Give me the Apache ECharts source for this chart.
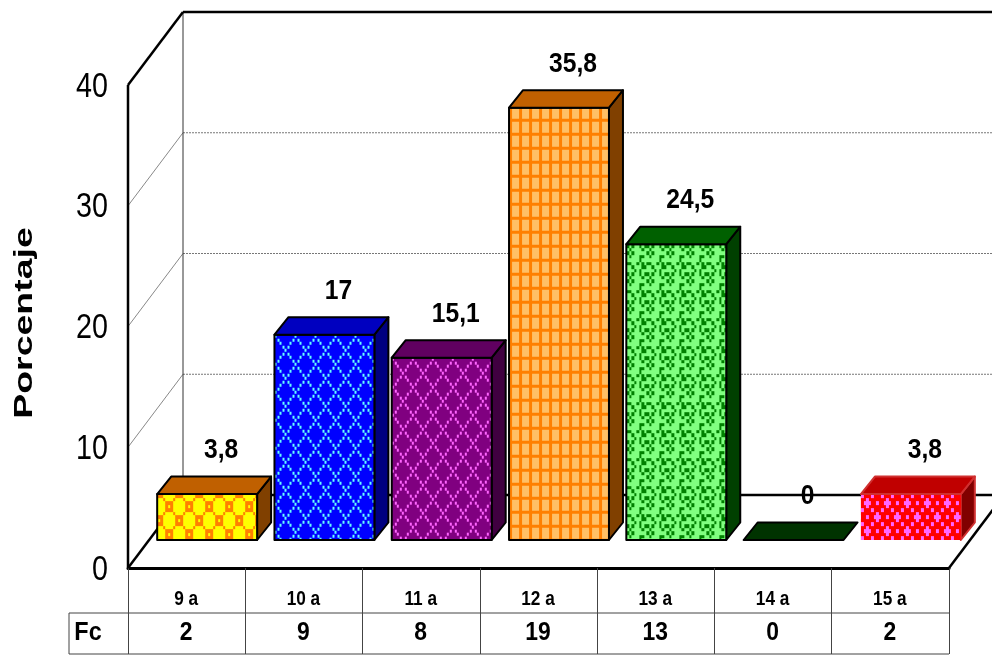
<!DOCTYPE html>
<html>
<head>
<meta charset="utf-8">
<style>html,body{margin:0;padding:0;background:#fff}#chart{width:992px;height:656px}</style>
<script src="https://cdn.jsdelivr.net/npm/echarts@6/dist/echarts.min.js"></script>
</head>
<body>
<div id="chart"></div>
<script>
// Age groups, percentages and frequencies
const ages = ['9 a', '10 a', '11 a', '12 a', '13 a', '14 a', '15 a'];
const percentages = [3.8, 17, 15.1, 35.8, 24.5, 0, 3.8];
const frequencies = ['2', '9', '8', '19', '13', '0', '2'];
const valueTicks = { min: 0, max: 40, interval: 10 };

const SANS = '"Liberation Sans", Arial, sans-serif';

// 3D projection of the box: wall offset, and the bars' position inside it
const WALL = { dx: 55, dy: -73 };
const BAR = { shiftX: 20.5, shiftY: -28, depthX: 14, depthY: -17.5, widthRatio: 0.852 };

// 8x8 hatch bitmaps scaled to a 20x28 tile
const HATCH = {
  rings: ['###.....', '#.#.....', '###.....', '...#...#', '....###.', '....#.#.', '....###.', '...#...#'],
  trellis: ['#.......', '.#.....#', '..#...#.', '...#.#..', '....#...', '...#.#..', '..#...#.', '.#.....#'],
  grid: ['#...#...', '#...#...', '#...#...', '########', '#...#...', '#...#...', '#...#...', '########'],
  confetti: ['#.#..#.#', '.#....#.', '#.#.....', '.#...##.', '.....#..', '##..#.#.', '..#...##', '...#.#..'],
  flower: ['#...#...', '..#.....', '.###..#.', '..#.....', '#...#...', '......#.', '..#..###', '......#.']
};
const XS = [0, 3, 5, 8, 10, 13, 15, 18, 20];
const YS = [0, 4, 7, 11, 14, 18, 21, 25, 28];

function hatchTile(rows, fg, bg, thin) {
  const c = document.createElement('canvas');
  c.width = 20; c.height = 28;
  const g = c.getContext('2d');
  g.fillStyle = bg; g.fillRect(0, 0, 20, 28);
  g.fillStyle = fg;
  rows.forEach((row, r) => {
    for (let k = 0; k < 8; k++) {
      if (row[k] !== '#') continue;
      const w = thin ? 2 : XS[k + 1] - XS[k];
      const h = thin ? 3 : YS[r + 1] - YS[r];
      g.fillRect(XS[k], YS[r], w, h);
    }
  });
  return c;
}

// One look per bar: hatch of the front face, shaded top and side, outlines
const looks = [
  { tile: hatchTile(HATCH.rings, '#FF8000', '#FFFF00'), top: '#C06000', side: '#804000', edge: '#000', front: '#000', ox: -2, oy: -7 },
  { tile: hatchTile(HATCH.trellis, '#66FFFF', '#0000FF', true), top: '#0000C0', side: '#000080', edge: '#000', front: '#000', ox: 0, oy: 0 },
  { tile: hatchTile(HATCH.trellis, '#FF66FF', '#800080', true), top: '#600060', side: '#400040', edge: '#000', front: '#000', ox: 0, oy: 0 },
  { tile: hatchTile(HATCH.grid, '#FF8000', '#FFC066'), top: '#C06000', side: '#804000', edge: '#000', front: '#000', ox: 0, oy: 0 },
  { tile: hatchTile(HATCH.confetti, '#008000', '#80FF80'), top: '#006000', side: '#004000', edge: '#000', front: '#000', ox: 0, oy: 0 },
  { tile: hatchTile(HATCH.confetti, '#008000', '#80FF80'), top: '#003300', side: '#003300', edge: '#000', front: '#000', ox: 0, oy: 0 },
  { tile: hatchTile(HATCH.flower, '#FF66FF', '#FF0000'), top: '#C00000', side: '#800000', edge: '#D03030', front: null, ox: 0, oy: 0 }
];

function line(x1, y1, x2, y2, stroke, lineWidth, lineDash) {
  return { type: 'line', shape: { x1, y1, x2, y2 }, style: { stroke, lineWidth, lineDash, fill: null }, silent: true };
}

// Condensed text: the face is squeezed horizontally around its anchor
function label(text, x, y, font, squeeze, align) {
  return {
    type: 'text', silent: true, x, y, scaleX: squeeze,
    style: { text, x: 0, y: 0, align: align || 'center', verticalAlign: 'middle', font, fill: '#000' }
  };
}

// Walls, floor, grid lines, the axis texts and the table under the axis
function renderFrame(params, api) {
  const cs = params.coordSys;
  const left = cs.x, right = cs.x + cs.width, base = cs.y + cs.height, top = cs.y;
  const bx = left + WALL.dx, backBase = base + WALL.dy, backTop = top + WALL.dy;
  const out = [];
  for (let v = valueTicks.interval; v < valueTicks.max; v += valueTicks.interval) {
    const y = api.coord([0, v])[1];
    out.push(line(left, y, bx, y + WALL.dy, '#888', 1));
    out.push(line(bx, y + WALL.dy, right + WALL.dx, y + WALL.dy, '#777', 1, [2, 1]));
  }
  out.push(line(bx, backTop, bx, backBase, '#333', 1));
  out.push(line(bx, backTop, right + WALL.dx, backTop, '#000', 2.5));
  out.push(line(bx, backBase, right + WALL.dx, backBase, '#000', 2.5));
  out.push(line(left, top, bx, backTop, '#000', 2.5));
  out.push(line(left, base, bx, backBase, '#000', 2.5));
  out.push(line(right, base, right + WALL.dx, backBase, '#000', 2.5));
  out.push(line(left, top, left, base, '#000', 2.5));
  // value scale
  for (let v = valueTicks.min; v <= valueTicks.max; v += valueTicks.interval) {
    out.push(label(String(v), left - 20, api.coord([0, v])[1] + 2, '35px ' + SANS, 0.82, 'right'));
  }
  // table: key cell, horizontal rules and the two rows of text
  const rowA = base + 45, rowB = base + 86, key = left - 59;
  out.push(line(key, rowA, right, rowA, '#444', 1));
  out.push(line(key, rowB, right, rowB, '#444', 1));
  out.push(line(key, rowA, key, rowB, '#444', 1));
  out.push(label('Fc', key + 19, rowA + 20, 'bold 26px ' + SANS, 0.9));
  ages.forEach((age, i) => {
    const x = api.coord([i, 0])[0];
    out.push(label(age, x - 0.5, base + 31, 'bold 21px ' + SANS, 0.82));
    out.push(label(frequencies[i], x - 0.5, rowA + 20, 'bold 26px ' + SANS, 0.88));
  });
  return { type: 'group', children: out };
}

// One projected bar: front face, top and side faces, value label
function renderBar(params, api) {
  const i = api.value(0), v = api.value(1);
  const look = looks[i];
  const p0 = api.coord([i, 0]), p1 = api.coord([i, v]);
  const w = api.size([1, 0])[0] * BAR.widthRatio;
  const x0 = p0[0] + BAR.shiftX - w / 2, x1 = x0 + w;
  const yb = p0[1] + BAR.shiftY, yt = yb - (p0[1] - p1[1]);
  const dx = BAR.depthX, dy = BAR.depthY;
  const children = [];
  const edge = { stroke: look.edge, lineWidth: 2, lineJoin: 'round' };
  if (v > 0) {
    children.push({
      type: 'polygon', silent: true,
      shape: { points: [[x1, yb], [x1 + dx, yb + dy], [x1 + dx, yt + dy], [x1, yt]] },
      style: Object.assign({ fill: look.side }, edge)
    });
    children.push({
      type: 'rect', silent: true,
      shape: { x: x0, y: yt, width: w, height: yb - yt },
      style: {
        fill: { image: look.tile, repeat: 'repeat', x: x0 + look.ox, y: yt + look.oy },
        stroke: look.front, lineWidth: 2, lineJoin: 'round'
      }
    });
  }
  children.push({
    type: 'polygon', silent: true,
    shape: { points: [[x0, yt], [x0 + dx, yt + dy], [x1 + dx, yt + dy], [x1, yt]] },
    style: Object.assign({ fill: look.top }, edge)
  });
  children.push(label(String(v).replace('.', ','), (x0 + x1) / 2 + dx, yt + dy - 26, 'bold 28px ' + SANS, 0.88));
  return { type: 'group', children };
}

const chart = echarts.init(document.getElementById('chart'), null, { renderer: 'canvas' });
chart.setOption({
  animation: false,
  backgroundColor: '#fff',
  grid: { left: 128, right: 43, top: 85, bottom: 88, containLabel: false },
  xAxis: {
    type: 'category', data: ages, position: 'bottom',
    axisLine: { show: true, onZero: false, lineStyle: { color: '#000', width: 3 } },
    axisTick: { show: true, length: 86, alignWithLabel: false, lineStyle: { color: '#444', width: 1 } },
    axisLabel: { show: false },
    splitLine: { show: false }
  },
  yAxis: {
    type: 'value', min: valueTicks.min, max: valueTicks.max, interval: valueTicks.interval,
    axisLine: { show: false }, axisTick: { show: false }, splitLine: { show: false },
    axisLabel: { show: false }
  },
  graphic: [{
    type: 'text', x: 24.5, y: 323, rotation: Math.PI / 2, scaleX: 1.44,
    style: { text: 'Porcentaje', font: 'bold 26px ' + SANS, align: 'center', verticalAlign: 'middle', fill: '#000' }
  }],
  series: [
    { type: 'custom', name: 'frame', renderItem: renderFrame, data: [[0, 0]], z: 1, clip: false, silent: true },
    {
      type: 'custom', name: 'Porcentaje', renderItem: renderBar, z: 3, clip: false, silent: true,
      encode: { x: 0, y: 1 },
      data: percentages.map((p, i) => [i, p])
    }
  ]
});
</script>
</body>
</html>
